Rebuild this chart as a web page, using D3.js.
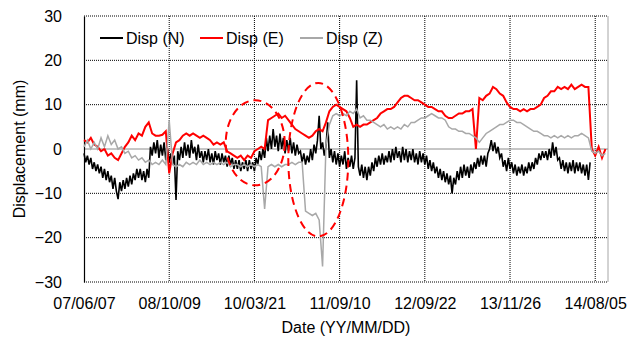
<!DOCTYPE html>
<html><head><meta charset="utf-8">
<script src="https://cdn.jsdelivr.net/npm/d3@7"></script>
<style>
body{margin:0;background:#fff}
svg{display:block}
text{font-family:"Liberation Sans",Arial,sans-serif;fill:#000}
</style>
</head><body>
<svg id="chart" width="641" height="338"></svg>
<script>
// ---- data ----
const tickLabels = ["07/06/07","08/10/09","10/03/21","11/09/10","12/09/22","13/11/26","14/08/05"];
const tickIndex = [0,100,200,300,400,500,600];
const indexMax = 615;
const yTicks = [-30,-20,-10,0,10,20,30];
const seriesNames = ["Disp (N)","Disp (E)","Disp (Z)"];
const sampleStepN = 2;   // sample index spacing of the N record
const sampleStepEZ = 4;  // sample index spacing of the E and Z records

const dispN = [
-1,-3,-1.5,-3.5,-2,-4.5,-3,-5,-3.5,-5.5,
-4,-6.5,-4.5,-7,-5,-7.5,-6,-9,-6.5,-9.5,
-11.3,-7.5,-9.5,-7,-9,-6.5,-8.5,-6,-8,-5.5,
-7,-4.5,-6.5,-4.5,-7,-5,-7.5,-4.5,-6.5,0.5,
-1.5,1.5,-1,2,-2,1,-1.5,1.5,-2.5,0,
-3,-1,-3.5,-1.5,-11.5,-0.5,-2.5,0.5,-2,1.5,
-1.5,1,-2,2,-1,0.5,-2.5,1,-2,-0.5,
-3,-0.5,-2.5,0,-3,-1,-3.5,-0.5,-2.5,-1,
-3.5,-1,-3,-1.5,-4,-1.5,-3.5,-2,-4.5,-2.5,
-4.5,-2.5,-5,-3,-4.5,-2.5,-5,-2.5,-4.5,-3,
-5,-2,-3.5,-0.5,-2.5,0,-2,2.5,-0.5,3,
0,4.5,0.5,3,-0.5,3.5,0,2.5,-1,2,
-0.5,2.5,-1,1.5,-1.5,1,-1,-0.5,-3,-1,
-3.5,-1.5,-3,0,-2.5,1,-1,2,7.5,0,
1.5,-1.5,0.5,6,-2,0,-3,-0.5,-3.5,-1,
-4,-1.5,-3.5,-0.5,-4.5,-2,-4,-1.5,-4.5,-2,
15.5,-4,-6,-3.5,-6.5,-4,-7,-4,-6,-3,
-5,-2,-4,-1.5,-3.5,-1,-3.5,-1.5,-3,-0.5,
-3,0,-2.5,0.5,-2,-0.5,-3,0.5,-2.5,0,
-3,-0.5,-2.5,0,-3,-1,-3.5,-0.5,-3,-1,
-3.5,-1.5,-4.5,-2.5,-5,-3,-5.5,-4,-6.5,-4.5,
-7,-5,-7.5,-5.5,-8,-6,-10,-6.5,-8,-5,
-7,-4,-6.5,-3.5,-6,-4,-6.5,-3.5,-5.5,-3,
-4.5,-2,-4,-1.5,-3.5,-1.5,-4,-1,0,2,
-0.5,1.5,-1,0.5,-2,-1,-4,-2.5,-5,-2,
-4.5,-3,-5.5,-3.5,-6,-4,-5.5,-3.5,-6,-4,
-5.5,-3,-5,-3,-4.5,-2,-3.5,-1,-2.5,-0.5,
-2,-0.5,-2.5,0,-2,1.5,-1.5,0.5,-2.5,-2,
-4.5,-2.5,-5,-3,-5.5,-3,-5,-2.5,-5.5,-3,
-5,-3,-5.5,-3.5,-6,-3.5,-7,-3,null,null,
null,null,null,null,null,null,null,null];

const dispE = [2,1.5,2.5,1,0.5,-0.5,0,-1.5,-1,-2,-2.5,-1,0.5,1.5,3,2,3.5,3,5,6,
3.5,3,3,3.2,4,-5.5,-1,1.5,2,3,3.5,3,3.5,3,2.5,3,2.5,2,1,1.5,
1,1.5,-0.5,-1,-1.5,-2,-1.5,-2.5,-1.5,-2,-0.5,0,0.5,0,6.5,7,7.5,8,7,7.5,
6.5,5.5,4.5,4,3.5,3,2.5,3,4,4.5,4,6,8.5,9.5,10,9.5,9,8.5,7,5,
5.5,5,5.5,5.5,6,6.5,7,8,8.5,9,9,9.5,10.5,11.5,12,12,11.5,11,11,10.5,
10,9.5,9.5,9,8.5,8.5,7.5,7,7,7.5,8,8,8.5,8.5,9,0,11.5,11,12,12.5,
14,13.5,12.5,12,10.5,9.5,9,9,8.5,9,8.5,9,9,9.5,10,11.5,12,13,13,14,
13.5,14,13.5,14.5,13.5,14,14.5,14,14,0,-1.5,0.5,-2,0];

const dispZ = [0.5,2,0,1.5,0,2.5,0.5,3,1,2,0,0.5,-1,-0.5,-2,-1.5,-2.5,-2,-3,-2.5,
-3.5,-3,-3.5,-2.5,-3.5,6.5,-3.5,-4,-3.5,-4,-3,-3.5,-3,-3.5,-2.5,-3.5,-3,-3.5,-3,-3.5,
-3,-3.5,-3,-4,-3.5,-3.5,-4,-3.5,-4,-3.5,-4,-3.5,-4,-13.5,-4,-3.5,-4,-3.5,-4,-3.5,
-3.5,-3,-3.5,-3,-3,-14,-14.5,-15,-14.5,-16,-26.5,1,5.5,7.5,8,7.5,8,7.5,8.5,8,
9,7,7.5,6.5,6.5,6,5.5,5,5.5,4.5,5,4.5,5,4.5,5.5,5,6,6,6.5,7,
7,7.5,8,7.5,7,7,6.5,5,4.5,4.5,4,4,3.5,3.5,3,2.5,1.5,2.5,3.5,4,
4.5,5,5.5,5.5,6,6.5,6.5,6,6,5.5,5,4.5,4,4,3.5,3,3,2.5,3,2.5,
3,2.5,3,2.5,3,3,3.5,3,2.5,-0.5,-1,-0.5,-1.5,-1];

// annotation ellipses (data coords: index, mm)
const ellipseCx = [201, 275];
const ellipseCy = [1.4, -2.4];
const ellipseRx = [34.6, 35.2];
const ellipseRy = [9.6, 17.3];

// ---- chart ----
const svg = d3.select("#chart");
const L = 84, R = 608, T = 16, B = 282;
const x = d3.scaleLinear().domain([0, indexMax]).range([L, R]);
const y = d3.scaleLinear().domain([-30, 30]).range([B, T]);

const grid = svg.append("g");
yTicks.forEach(v => {
  if (v === 0) return;
  grid.append("line").attr("x1", L).attr("x2", R).attr("y1", y(v)).attr("y2", y(v))
    .attr("stroke", "#000").attr("stroke-width", 1).attr("stroke-dasharray", "1,1");
});
tickIndex.forEach(t => {
  if (t === 0) return;
  grid.append("line").attr("x1", x(t)).attr("x2", x(t)).attr("y1", T).attr("y2", B)
    .attr("stroke", "#000").attr("stroke-width", 1).attr("stroke-dasharray", "1,1");
});
grid.append("line").attr("x1", R).attr("x2", R).attr("y1", T).attr("y2", B)
  .attr("stroke", "#a6a6a6").attr("stroke-width", 1);
grid.append("line").attr("x1", L).attr("x2", R).attr("y1", y(0)).attr("y2", y(0))
  .attr("stroke", "#8c8c8c").attr("stroke-width", 1);

const yAxis = d3.axisLeft(y).tickValues(yTicks).tickSize(0).tickPadding(22);
const gy = svg.append("g").attr("transform", `translate(${L},0)`).call(yAxis);
gy.select(".domain").attr("stroke", "#000").attr("stroke-width", 1.2);
gy.selectAll("text").attr("font-size", 16).attr("font-family", "Liberation Sans, Arial, sans-serif");

const xAxis = d3.axisBottom(x).tickValues(tickIndex).tickFormat((d, i) => tickLabels[i]).tickSize(0).tickPadding(16);
const gx = svg.append("g").attr("transform", `translate(0,${B})`).call(xAxis);
gx.select(".domain").remove();
gx.selectAll("text").attr("font-size", 16).attr("font-family", "Liberation Sans, Arial, sans-serif");

const colors = ["#000000", "#ff0000", "#a8a8a8"];
const widths = [1.6, 2, 1.5];
const allSeries = [dispN, dispE, dispZ];
const steps = [sampleStepN, sampleStepEZ, sampleStepEZ];
const line = d3.line()
  .defined(d => d.v !== null)
  .x(d => x(d.i))
  .y(d => y(d.v));
allSeries.forEach((s, k) => {
  const pts = s.map((v, i) => ({ i: i * steps[k], v: v }));
  svg.append("path").datum(pts).attr("d", line)
    .attr("fill", "none").attr("stroke", colors[k]).attr("stroke-width", widths[k]);
});

ellipseCx.forEach((cx, k) => {
  svg.append("ellipse")
    .attr("cx", x(cx)).attr("cy", y(ellipseCy[k]))
    .attr("rx", x(ellipseRx[k]) - x(0)).attr("ry", y(0) - y(ellipseRy[k]))
    .attr("fill", "none").attr("stroke", "#ff0000").attr("stroke-width", 2)
    .attr("stroke-dasharray", "8,5");
});

const legX = [100, 200, 300];
seriesNames.forEach((n, k) => {
  svg.append("line").attr("x1", legX[k]).attr("x2", legX[k] + 23).attr("y1", 38).attr("y2", 38)
    .attr("stroke", colors[k]).attr("stroke-width", 2);
  svg.append("text").attr("x", legX[k] + 26).attr("y", 44).attr("font-size", 16).text(n);
});

svg.append("text").attr("x", (L + R) / 2).attr("y", 333).attr("text-anchor", "middle")
  .attr("font-size", 16).text("Date (YY/MM/DD)");
svg.append("text").attr("transform", `translate(25,${(T + B) / 2}) rotate(-90)`)
  .attr("text-anchor", "middle").attr("font-size", 16).text("Displacement (mm)");
</script>
</body></html>
